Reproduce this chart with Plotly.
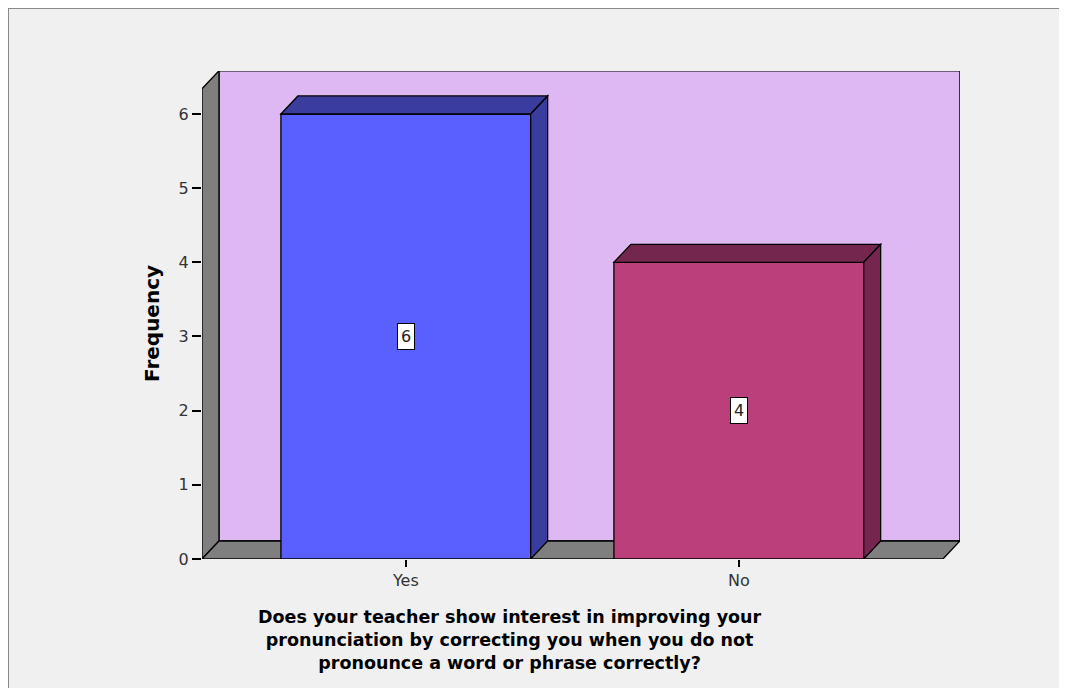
import plotly.graph_objects as go

# ---- data ----
categories = ["Yes", "No"]
frequencies = [6, 4]
y_ticks = [0, 1, 2, 3, 4, 5, 6]

# ---- style ----
front_colors = ["#5A5FFF", "#BA3F7B"]
dark_colors = ["#3A3C9E", "#74264E"]
wall_color = "#DEB8F2"
side_color = "#7F7F7F"
bg = "#F0F0F0"
bar_width = 0.75
DX, DY = 0.051, 0.243          # 3-D depth offset (data units)
X_LEFT, X_RIGHT = -0.612, 1.613  # front floor extent
Y_TOP = 6.34                      # top of front axis

OFF = 8                      # page body margin
W, H = 1067, 688             # page size
ML, MR, MT, MB = 202, 107, 71, 129   # plot area in page pixels
PW, PH = W - ML - MR, H - MT - MB

def px(x):
    return (x - ML) / PW

def py(y):
    return (H - MB - y) / PH

fig = go.Figure()

fig.add_trace(go.Bar(
    x=categories, y=frequencies, width=bar_width,
    marker=dict(color=front_colors, line=dict(color="black", width=1.3)),
    hoverinfo="skip", showlegend=False,
))

shapes = []
def poly(pts, fill, layer="above"):
    d = "M " + " L ".join(f"{x},{y}" for x, y in pts) + " Z"
    shapes.append(dict(type="path", path=d, xref="x", yref="y",
                       fillcolor=fill, line=dict(color="black", width=1.3),
                       layer=layer))

# back wall, side wall, floor
poly([(X_LEFT + DX, DY), (X_RIGHT + DX, DY), (X_RIGHT + DX, Y_TOP + DY),
      (X_LEFT + DX, Y_TOP + DY)], wall_color, "below")
poly([(X_LEFT, 0), (X_LEFT + DX, DY), (X_LEFT + DX, Y_TOP + DY),
      (X_LEFT, Y_TOP)], side_color, "below")
poly([(X_LEFT, 0), (X_RIGHT, 0), (X_RIGHT + DX, DY), (X_LEFT + DX, DY)],
     side_color, "below")

# bar depth faces
for i, v in enumerate(frequencies):
    x0, x1 = i - bar_width / 2, i + bar_width / 2
    poly([(x0, v), (x0 + DX, v + DY), (x1 + DX, v + DY), (x1, v)], dark_colors[i])
    poly([(x1, 0), (x1, v), (x1 + DX, v + DY), (x1 + DX, DY)], dark_colors[i])

# outer frame
shapes.append(dict(type="line", xref="paper", yref="paper",
                   x0=px(8), y0=py(8), x1=px(W + 5), y1=py(8),
                   line=dict(color="#8A8A8A", width=2)))
shapes.append(dict(type="line", xref="paper", yref="paper",
                   x0=px(8), y0=py(8), x1=px(8), y1=py(H + 5),
                   line=dict(color="#8A8A8A", width=2)))

annotations = []
for i, v in enumerate(frequencies):
    annotations.append(dict(
        x=categories[i], y=v / 2, xref="x", yref="y", text=str(v),
        showarrow=False, bgcolor="white", bordercolor="black", borderwidth=1,
        borderpad=3, font=dict(family="DejaVu Sans", size=16, color="#222")))

title_lines = ["Does your teacher show interest in improving your",
               "pronunciation by correcting you when you do not",
               "pronounce a word or phrase correctly?"]
annotations.append(dict(
    x=px(510), y=py(640), xref="paper", yref="paper",
    text="<br>".join(f"<b>{t}</b>" for t in title_lines),
    showarrow=False, align="center", xanchor="center", yanchor="middle",
    font=dict(family="DejaVu Sans", size=17.5, color="black")))
annotations.append(dict(
    x=px(152), y=py(324), xref="paper", yref="paper", text="<b>Frequency</b>",
    textangle=-90, showarrow=False, xanchor="center", yanchor="middle",
    font=dict(family="DejaVu Sans", size=20, color="black")))

tick_font = dict(family="DejaVu Sans", size=16, color="#333")
fig.update_layout(
    width=W - OFF, height=H - OFF,
    margin=dict(l=ML - OFF, r=MR, t=MT - OFF, b=MB, pad=0),
    paper_bgcolor=bg, plot_bgcolor=bg,
    shapes=shapes, annotations=annotations,
    xaxis=dict(range=[X_LEFT, X_LEFT + PW / 333.0], type="category",
               showgrid=False, zeroline=False, showline=False,
               ticks="outside", ticklen=7, tickcolor="black", tickwidth=1.5,
               tickfont=tick_font),
    yaxis=dict(range=[0, PH / 74.17], tickvals=y_ticks,
               showgrid=False, zeroline=False, showline=False,
               ticks="outside", ticklen=9, tickcolor="black", tickwidth=1.5,
               tickfont=tick_font),
    bargap=0.25,
)

fig.write_html("out.html")
